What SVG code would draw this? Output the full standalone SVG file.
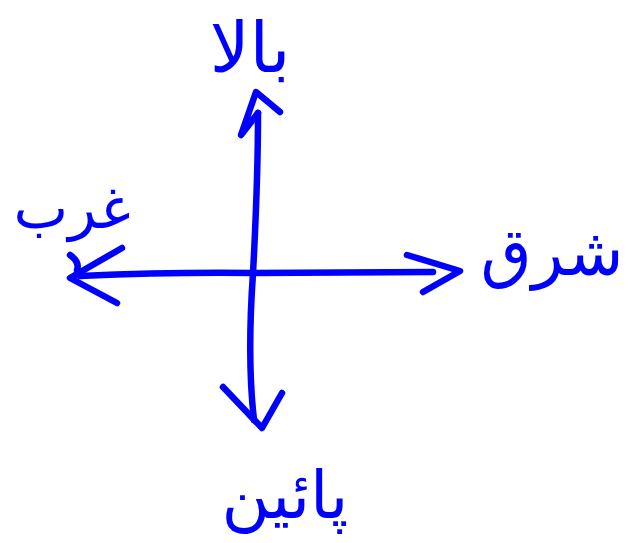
<svg xmlns="http://www.w3.org/2000/svg" width="630" height="543" viewBox="0 0 630 543">
<style>
.s{fill:none;stroke:#0000ff;stroke-width:6.5;stroke-linecap:round;stroke-linejoin:round}
.t{fill:#0000ff;font-family:"DejaVu Sans","Noto Sans",sans-serif;text-anchor:middle}
</style>
<rect width="630" height="543" fill="#fff"/>
<g id="connectors">
<path class="s" d="M254 420 Q247 360 253 273 Q258 180 258 113"/>
<path class="s" d="M258 113 L241 135 L256 92 L280 112"/>
<path class="s" d="M80 276 Q170 272 253 273 L433 272"/>
<path class="s" d="M407 255 L460 271 L423 292"/>
<path class="s" d="M122 248 L70 278 L117 303"/>
<path class="s" d="M70 255 Q80 262 77 270"/>
<path class="s" d="M223 387 L262 428 L282 393"/>
</g>
<g id="north"><text class="t" x="250" y="72" font-size="70">بالا</text></g>
<g id="east"><text class="t" x="552" y="275" font-size="66">شرق</text></g>
<g id="west"><text class="t" x="72" y="228" font-size="58">غرب</text></g>
<g id="south"><text class="t" x="285" y="518" font-size="66">پائین</text></g>
</svg>
